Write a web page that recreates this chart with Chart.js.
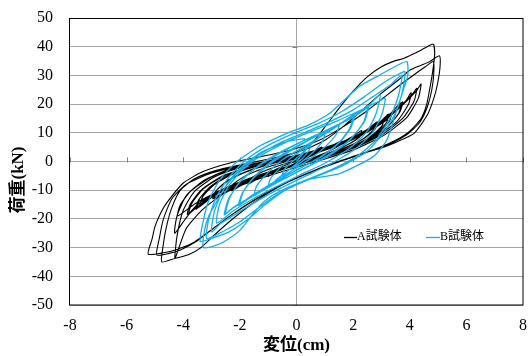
<!DOCTYPE html>
<html>
<head>
<meta charset="utf-8">
<script src="https://cdn.jsdelivr.net/npm/chart.js@4"></script>
<style>
html, body { margin: 0; padding: 0; background: #fff; }
canvas { display: block; }
</style>
</head>
<body>
<canvas id="c" width="528" height="356"></canvas>
<script>
// Axis ticks
const xTicks = [-8, -6, -4, -2, 0, 2, 4, 6, 8];
const yTicks = [-50, -40, -30, -20, -10, 0, 10, 20, 30, 40, 50];
const xTitle = '変位(cm)';
const yTitle = '荷重(kN)';
const seriesNames = ['A試験体', 'B試験体'];

// Specimen A: displacement (cm), load (kN) along the cyclic loading history
const specimenA = [
  [0,0],[0.3,2.0],[0.6,3.5],[0.9,5.0],[0.85,3.8],[0.5,1.8],[0.1,0.0],[-0.3,-1.8],[-0.7,-3.6],[-1.0,-5.2],[-0.95,-4.0],[-0.6,-2.2],[-0.2,-0.5],[0.3,1.3],[0.8,3.3],
  [1.2,5.2],[1.6,7.2],[1.55,5.8],[1.1,3.4],[0.5,1.0],[-0.2,-1.4],[-0.8,-3.6],[-1.3,-5.6],[-1.7,-7.8],[-1.65,-6.2],[-1.2,-3.6],[-0.6,-1.4],[0.1,0.8],[0.8,3.2],[1.5,6.2],
  [2.0,8.8],[2.3,10.8],[2.25,8.8],[1.8,5.8],[1.1,2.8],[0.3,0.2],[-0.5,-2.4],[-1.2,-4.8],[-1.8,-7.4],[-2.3,-10.2],[-2.25,-8.0],[-1.8,-5.0],[-1.1,-2.2],[-0.3,0.2],[0.5,2.4],[1.3,5.0],[2.0,8.4],
  [2.5,11.0],[2.8,13.5],[2.72,11.0],[2.3,7.6],[1.6,4.2],[0.8,1.4],[0.0,-1.2],[-0.8,-3.8],[-1.6,-6.6],[-2.3,-9.4],[-2.9,-12.5],[-2.82,-10.0],[-2.4,-6.4],[-1.7,-3.2],[-0.9,-0.8],[0.0,1.2],[0.9,3.8],[1.7,7.0],[2.4,10.4],
  [2.85,13.8],[2.78,11.4],[2.35,7.8],[1.6,4.4],[0.7,1.2],[-0.1,-1.4],[-0.9,-4.0],[-1.7,-7.0],[-2.4,-10.0],[-2.95,-13.0],[-2.86,-10.4],[-2.4,-6.6],[-1.6,-3.0],[-0.8,-0.6],[0.1,1.4],[1.0,4.2],[1.8,7.6],[2.5,11.2],
  [3.0,14.2],[3.25,16.5],[3.18,13.6],[2.8,9.8],[2.1,5.8],[1.3,2.6],[0.4,0.0],[-0.5,-2.6],[-1.4,-5.4],[-2.2,-8.4],[-2.9,-11.8],[-3.4,-15.5],[-3.32,-12.4],[-2.9,-8.0],[-2.2,-4.2],[-1.3,-1.4],[-0.4,0.6],[0.6,2.8],[1.5,5.8],[2.3,9.4],[2.9,13.0],
  [3.35,17.0],[3.28,14.0],[2.9,10.2],[2.2,6.0],[1.3,2.6],[0.3,-0.2],[-0.7,-3.0],[-1.6,-6.0],[-2.4,-9.2],[-3.0,-12.6],[-3.5,-16.2],[-3.42,-13.0],[-3.0,-8.4],[-2.3,-4.2],[-1.4,-1.4],[-0.4,0.8],[0.6,3.0],[1.6,6.2],[2.4,10.0],[3.0,13.8],
  [3.1,15.2],[3.02,12.4],[2.6,8.6],[1.9,5.0],[1.0,1.8],[0.1,-0.8],[-0.8,-3.4],[-1.7,-6.4],[-2.5,-9.8],[-3.1,-13.0],[-3.55,-16.6],[-3.46,-13.4],[-3.05,-8.8],[-2.35,-4.6],[-1.4,-1.6],[-0.3,0.7],[0.8,3.4],[1.8,6.8],[2.6,10.8],[3.2,14.6],
  [3.4,17.6],[3.7,20.5],[3.62,17.0],[3.2,12.0],[2.5,7.4],[1.6,3.6],[0.6,0.6],[-0.4,-2.2],[-1.4,-5.2],[-2.3,-8.4],[-3.0,-12.0],[-3.5,-15.0],[-3.8,-18.0],[-3.7,-14.6],[-3.3,-9.6],[-2.6,-5.2],[-1.7,-2.0],[-0.7,0.2],[0.4,2.4],[1.4,5.4],[2.3,9.2],[3.0,13.6],[3.5,17.6],
  [3.75,20.8],[3.66,17.4],[3.25,12.4],[2.5,7.2],[1.5,3.2],[0.4,0.2],[-0.7,-2.8],[-1.7,-6.0],[-2.6,-9.6],[-3.3,-13.4],[-3.85,-18.4],[-3.75,-14.8],[-3.35,-9.8],[-2.6,-5.0],[-1.6,-1.8],[-0.5,0.6],[0.6,3.0],[1.6,6.2],[2.5,10.4],[3.2,15.0],[3.6,18.6],
  [3.85,21.0],[4.05,24.0],[3.96,20.0],[3.55,14.0],[2.8,8.6],[1.9,4.4],[0.9,1.2],[-0.2,-1.8],[-1.2,-4.8],[-2.2,-8.2],[-3.0,-11.6],[-3.6,-14.8],[-4.2,-19.0],[-4.1,-15.0],[-3.7,-10.0],[-3.0,-5.4],[-2.1,-2.2],[-1.0,0.2],[0.2,2.6],[1.3,5.8],[2.3,9.8],[3.1,14.6],[3.7,19.6],
  [4.1,23.6],[4.25,25.5],[4.15,21.0],[3.75,15.0],[3.0,9.2],[2.0,4.6],[0.9,1.2],[-0.3,-2.2],[-1.4,-5.6],[-2.4,-9.4],[-3.2,-13.6],[-3.8,-18.4],[-4.3,-25.0],[-4.22,-19.0],[-3.9,-12.0],[-3.3,-6.8],[-2.4,-2.8],[-1.3,-0.4],[-0.1,1.8],[1.1,4.8],[2.2,9.0],[3.1,14.2],[3.8,20.2],
  [4.25,24.8],[4.4,27.0],[4.3,22.0],[3.9,15.4],[3.1,9.2],[2.1,4.4],[0.9,0.6],[-0.4,-3.2],[-1.6,-7.0],[-2.6,-11.4],[-3.3,-16.6],[-3.9,-23.4],[-4.29,-33.7],
  [-4.22,-26.0],[-4.0,-17.0],[-3.6,-10.4],[-2.9,-5.4],[-2.0,-2.2],[-0.9,0.4],[0.0,3.2],[0.6,7.0],[1.0,12.0],[1.5,18.5],[2.0,24.5],[2.5,29.5],[3.0,33.0],[3.4,34.8],[3.8,36.0],[4.2,37.8],[4.55,39.6],[4.83,40.9],
  [4.88,37.5],[4.82,32.0],[4.72,26.0],[4.6,20.0],[4.4,15.0],[4.0,10.6],[3.5,7.4],[2.9,4.8],[2.2,2.4],[1.4,-0.2],[0.6,-3.2],[-0.2,-6.6],[-0.9,-10.4],[-1.6,-15.0],[-2.3,-20.4],[-2.9,-25.6],[-3.4,-30.2],[-3.8,-32.4],[-4.3,-33.8],[-4.76,-35.0],
  [-4.72,-30.0],[-4.6,-23.0],[-4.4,-16.0],[-4.1,-10.0],[-3.6,-6.0],[-2.8,-3.0],[-1.8,-0.8],[-0.8,1.2],[0.2,3.8],[1.0,7.4],[1.7,12.6],[2.4,18.6],[3.0,23.8],[3.6,28.4],[4.0,31.8],[4.42,33.6],[4.7,34.8],[5.05,36.8],
  [5.07,33.0],[4.98,27.0],[4.85,22.0],[4.62,16.2],[4.15,9.8],[3.56,6.9],[2.97,4.6],[2.38,2.9],[1.68,0.5],[0.9,-2.2],[0.1,-5.4],[-0.7,-9.0],[-1.5,-13.4],[-2.3,-18.6],[-3.0,-23.8],[-3.6,-28.0],[-4.2,-30.6],[-4.7,-31.8],[-5.24,-32.3],
  [-5.1,-27.0],[-5.0,-22.7],[-4.8,-18.0],[-4.59,-14.5],[-4.0,-7.5],[-3.3,-3.5],[-2.35,-0.5],[-1.3,1.6],[-0.2,4.0],[0.8,7.4],[1.6,11.8],[2.4,17.0],[3.1,22.4],[3.7,27.0],[4.2,30.6],[4.55,33.0],[4.83,34.8],
  [4.85,31.0],[4.78,25.0],[4.62,19.0],[4.35,13.6],[3.9,9.4],[3.3,6.2],[2.6,3.6],[1.8,1.0],[1.0,-1.8],[0.2,-5.0],[-0.6,-8.6],[-1.4,-13.0],[-2.2,-18.0],[-2.9,-23.0],[-3.5,-27.6],[-4.1,-30.8],[-4.5,-32.0],[-4.94,-32.6],
  [-4.85,-27.0],[-4.7,-20.0],[-4.4,-13.0],[-3.9,-8.0],[-3.0,-4.0],[-2.0,-1.6],[-1.0,0.0],[0.0,1.0]
];

// Specimen B: displacement (cm), load (kN) along the cyclic loading history
const specimenB = [
  [0,0],[0.25,3.0],[0.5,6.0],[0.45,4.0],[0.2,1.0],[-0.1,-1.5],[-0.3,-3.2],[-0.5,-5.0],[-0.45,-3.0],[-0.2,-0.5],[0.1,2.0],[0.35,4.5],
  [0.7,7.6],[1.0,10.0],[0.92,7.0],[0.6,3.4],[0.2,0.0],[-0.3,-3.2],[-0.7,-6.2],[-1.0,-9.0],[-0.92,-6.0],[-0.6,-2.4],[-0.2,1.2],[0.3,4.8],[0.7,7.6],
  [1.1,10.4],[1.5,13.0],[1.4,9.4],[1.0,5.0],[0.5,1.0],[-0.1,-2.8],[-0.6,-6.0],[-1.1,-9.0],[-1.5,-12.0],[-1.4,-8.4],[-1.0,-3.8],[-0.5,0.6],[0.1,4.2],[0.7,7.8],[1.2,10.8],
  [1.6,13.4],[2.0,16.0],[1.88,11.6],[1.5,6.6],[0.9,2.0],[0.2,-2.0],[-0.5,-5.8],[-1.1,-9.0],[-1.6,-12.2],[-2.0,-15.0],[-1.88,-10.6],[-1.5,-5.4],[-1.0,-0.8],[-0.3,3.6],[0.4,7.4],[1.0,10.4],[1.6,13.6],
  [2.05,16.4],[1.92,11.8],[1.5,6.4],[0.9,1.8],[0.1,-2.4],[-0.6,-6.2],[-1.2,-9.6],[-1.7,-12.6],[-2.05,-15.4],[-1.9,-10.8],[-1.5,-5.6],[-0.9,-0.6],[-0.2,3.8],[0.5,7.8],[1.2,11.2],[1.7,14.2],
  [2.1,16.8],[2.5,19.0],[2.36,13.6],[1.9,7.6],[1.2,2.4],[0.4,-1.8],[-0.4,-5.8],[-1.1,-9.6],[-1.7,-12.8],[-2.2,-15.8],[-2.5,-18.0],[-2.36,-12.6],[-2.0,-7.0],[-1.4,-1.8],[-0.7,2.6],[0.1,6.6],[0.9,10.2],[1.6,13.6],[2.2,16.8],
  [2.55,19.6],[2.4,14.0],[1.9,7.8],[1.1,2.2],[0.3,-2.2],[-0.5,-6.4],[-1.2,-10.2],[-1.8,-13.6],[-2.3,-16.6],[-2.55,-18.6],[-2.4,-13.0],[-2.0,-7.2],[-1.4,-2.0],[-0.6,2.8],[0.2,7.0],[1.0,10.6],[1.8,14.4],[2.4,18.0],
  [2.95,23.2],[2.82,17.0],[2.5,10.6],[1.9,4.8],[1.0,-0.6],[0.1,-4.8],[-0.8,-9.2],[-1.6,-13.4],[-2.2,-17.0],[-2.82,-21.5],[-2.72,-15.0],[-2.4,-8.6],[-1.9,-2.8],[-1.2,2.4],[-0.4,6.6],[0.5,10.4],[1.4,14.0],[2.2,17.6],[2.8,20.4],
  [3.13,22.0],[3.0,16.0],[2.65,9.6],[2.0,3.8],[1.1,-1.4],[0.2,-5.6],[-0.7,-10.0],[-1.5,-14.4],[-2.2,-18.6],[-2.7,-21.8],[-3.0,-24.5],[-2.9,-17.4],[-2.6,-10.2],[-2.1,-4.0],[-1.4,1.8],[-0.6,6.4],[0.3,10.2],[1.2,14.0],[2.0,18.0],[2.7,22.6],[3.3,26.6],
  [3.72,30.1],[3.6,23.0],[3.3,15.0],[2.8,7.4],[2.1,1.6],[1.2,-3.0],[0.2,-7.0],[-0.7,-11.6],[-1.4,-16.6],[-2.0,-21.0],[-2.6,-24.4],[-3.17,-26.8],[-3.1,-20.0],[-2.85,-12.8],[-2.4,-5.6],[-1.8,0.4],[-1.0,5.6],[-0.1,9.8],[0.8,13.4],[1.6,17.4],[2.4,22.6],[3.1,27.6],[3.6,30.4],
  [3.83,31.3],[3.75,24.8],[3.5,17.0],[3.06,9.8],[2.5,3.6],[1.6,-1.6],[0.6,-5.6],[-0.4,-10.0],[-1.1,-15.0],[-1.7,-20.0],[-2.4,-24.6],[-3.0,-26.8],[-3.4,-27.9],[-3.3,-21.0],[-3.1,-13.6],[-2.7,-6.2],[-2.1,0.0],[-1.3,5.4],[-0.3,10.0],[0.4,12.6],[1.2,17.0],[2.2,26.0],[2.95,30.2],[3.5,33.2],
  [3.9,34.8],[3.93,30.0],[3.77,24.9],[3.54,17.9],[3.19,7.5],[2.71,1.7],[1.54,-4.1],[0.36,-6.4],[-0.6,-10.4],[-1.15,-14.0],[-1.6,-19.0],[-2.0,-24.0],[-2.5,-27.6],[-2.9,-29.4],[-3.29,-29.9],
  [-3.25,-24.0],[-3.1,-19.0],[-2.82,-14.0],[-2.4,-7.0],[-1.9,-1.5],[-1.2,3.5],[-0.3,7.0],[0.3,8.0]
];

const toPoints = arr => arr.map(([x, y]) => ({ x, y }));

const serif = '"Liberation Serif", "Noto Sans CJK JP", serif';

const decor = {
  id: 'decor',
  beforeDatasetsDraw(chart) {
    const { ctx, scales: { x, y } } = chart;
    const x0 = Math.round(x.getPixelForValue(0)) + 0.5;
    const y0 = Math.round(y.getPixelForValue(0)) + 0.5;
    ctx.save();
    ctx.strokeStyle = '#808080';
    ctx.lineWidth = 1;
    ctx.beginPath();
    xTicks.forEach(v => {
      const px = Math.round(x.getPixelForValue(v)) + 0.5;
      ctx.moveTo(px, y0); ctx.lineTo(px, y0 - 5);
    });
    yTicks.forEach(v => {
      const py = Math.round(y.getPixelForValue(v)) + 0.5;
      ctx.moveTo(x0, py); ctx.lineTo(x0 - 5, py);
    });
    ctx.stroke();
    ctx.restore();
  },
  afterDraw(chart) {
    const { ctx, chartArea: a } = chart;
    ctx.save();
    // plot frame
    ctx.strokeStyle = '#000';
    ctx.lineWidth = 1;
    ctx.strokeRect(Math.round(a.left) - 0.5, Math.round(a.top) + 0.5,
      Math.round(a.right - a.left) + 0.5, Math.round(a.bottom - a.top) - 0.5);

    // axis titles
    ctx.fillStyle = '#000';
    ctx.font = 'bold 17px ' + serif;
    ctx.textAlign = 'center';
    ctx.textBaseline = 'middle';
    ctx.fillText(xTitle, (a.left + a.right) / 2, 346);
    ctx.translate(18.5, 180);
    ctx.rotate(-Math.PI / 2);
    ctx.fillText(yTitle, 0, 0);
    ctx.restore();

    // legend
    ctx.save();
    ctx.font = '12px ' + serif;
    ctx.textAlign = 'left';
    ctx.textBaseline = 'middle';
    const items = [[344, 357], [426, 440]];
    chart.data.datasets.forEach((ds, i) => {
      const [x1, x2] = items[i];
      ctx.strokeStyle = ds.borderColor;
      ctx.lineWidth = 1.3;
      ctx.beginPath();
      ctx.moveTo(x1, 237.5); ctx.lineTo(x2, 237.5);
      ctx.stroke();
      ctx.fillStyle = '#000';
      ctx.fillText(ds.label, x2, 237);
    });
    ctx.restore();
  }
};

new Chart(document.getElementById('c'), {
  type: 'scatter',
  data: {
    datasets: [
      {
        label: seriesNames[0],
        data: toPoints(specimenA),
        showLine: true,
        borderColor: '#000000',
        borderWidth: 1.1,
        pointRadius: 0,
        tension: 0.2,
        order: 1
      },
      {
        label: seriesNames[1],
        data: toPoints(specimenB),
        showLine: true,
        borderColor: '#0fb0ee',
        borderWidth: 1.3,
        pointRadius: 0,
        tension: 0.2,
        order: 0
      }
    ]
  },
  options: {
    responsive: false,
    animation: false,
    devicePixelRatio: 1,
    layout: { padding: { top: 18, right: 5, left: 0, bottom: 0 } },
    plugins: { legend: { display: false }, tooltip: { enabled: false } },
    scales: {
      x: {
        type: 'linear',
        min: -8, max: 8,
        afterBuildTicks: s => { s.ticks = xTicks.map(v => ({ value: v })); },
        afterFit: s => { s.height = 51; s.paddingLeft = 0; s.paddingRight = 0; },
        border: { display: false },
        grid: {
          drawTicks: false,
          color: c => (c.tick && c.tick.value === 0 ? '#a6a6a6' : 'rgba(0,0,0,0)'),
          lineWidth: 1
        },
        ticks: { padding: 11, color: '#000', font: { family: serif, size: 16 }, maxRotation: 0 }
      },
      y: {
        type: 'linear',
        min: -50, max: 50,
        afterBuildTicks: s => { s.ticks = yTicks.map(v => ({ value: v })); },
        afterFit: s => { s.width = 70; s.paddingTop = 0; s.paddingBottom = 0; },
        border: { display: false },
        grid: { drawTicks: false, color: '#a6a6a6', lineWidth: 1 },
        ticks: { padding: 17, color: '#000', font: { family: serif, size: 16 } }
      }
    }
  },
  plugins: [decor]
});
</script>
</body>
</html>
